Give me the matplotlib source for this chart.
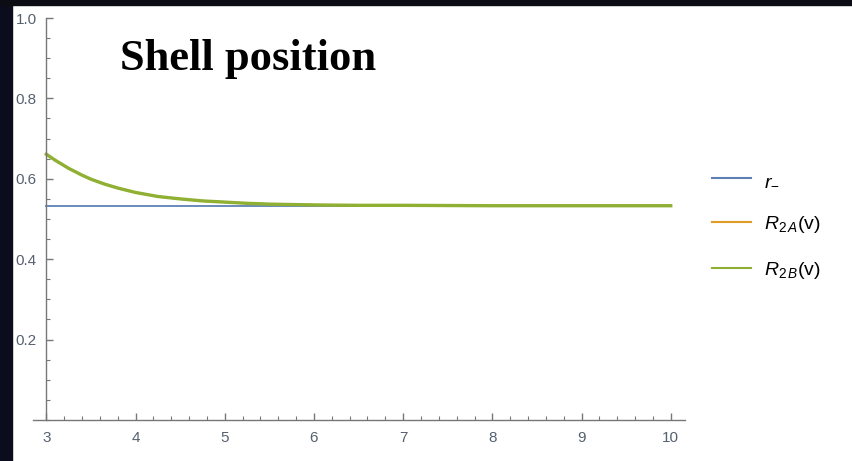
import matplotlib.pyplot as plt
from matplotlib.lines import Line2D
from matplotlib.patches import Rectangle
from matplotlib.ticker import MultipleLocator

plt.rcParams['mathtext.fontset'] = 'custom'
plt.rcParams['mathtext.rm'] = 'Liberation Sans'
plt.rcParams['mathtext.it'] = 'Liberation Sans:italic'

# values
v = [3.0, 3.1, 3.25, 3.4, 3.5, 3.65, 3.8, 4.0, 4.25, 4.5, 4.75, 5.0, 5.25, 5.5, 6.0, 6.5, 7.0, 8.0, 9.0, 10.0]
r_minus = [0.533] * len(v)
R2A = [0.661, 0.646, 0.626, 0.609, 0.599, 0.587, 0.577, 0.566, 0.556, 0.550, 0.545, 0.542, 0.539, 0.537, 0.535, 0.534, 0.534, 0.533, 0.533, 0.533]
R2B = [0.661, 0.646, 0.626, 0.609, 0.599, 0.587, 0.577, 0.566, 0.556, 0.550, 0.545, 0.542, 0.539, 0.537, 0.535, 0.534, 0.534, 0.533, 0.533, 0.533]

labels = [r'$r_{-}$', r'$R_{2\,A}$(v)', r'$R_{2\,B}$(v)']
colors = ['#5E81B5', '#E19C24', '#8FB032']

W, H = 853, 461
fig = plt.figure(figsize=(W / 100, H / 100), dpi=100)

# dark frame of the slide around the white panel
fig.patches.append(Rectangle((0, 0), 12 / W, 1, transform=fig.transFigure, color='#0b0c1c', zorder=-1))
fig.patches.append(Rectangle((0, 1 - 5 / H), 1, 5 / H, transform=fig.transFigure, color='#0b0c14', zorder=-1))

ax = fig.add_axes([33 / W, (H - 420) / H, 652 / W, 402 / H])
ax.patch.set_alpha(0)
ax.plot(v, r_minus, color=colors[0], lw=1.3)
ax.plot(v, R2A, color=colors[1], lw=1.5)
ax.plot(v, R2B, color=colors[2], lw=2.4)

ax.set_xlim(2.85, 10.16)
ax.set_ylim(0, 1.0)
ax.spines['left'].set_position(('data', 3))
ax.spines['top'].set_visible(False)
ax.spines['right'].set_visible(False)
for s in ['left', 'bottom']:
    ax.spines[s].set_color('#777777')
    ax.spines[s].set_linewidth(1.0)

ax.xaxis.set_minor_locator(MultipleLocator(0.2))
ax.yaxis.set_minor_locator(MultipleLocator(0.05))
ax.set_xticks(range(3, 11))
ax.set_yticks([0.2, 0.4, 0.6, 0.8, 1.0])
ax.set_xticklabels([str(i) for i in range(3, 11)])
ax.set_yticklabels(['0.2', '0.4', '0.6', '0.8', '1.0'])
ax.tick_params(which='both', direction='in', color='#777777', labelcolor='#556070',
               labelsize=11)
ax.tick_params(which='major', length=5, width=1.0)
ax.tick_params(which='minor', length=3, width=0.8)
ax.tick_params(axis='y', pad=7)
ax.tick_params(axis='x', pad=8)
for t in ax.get_xticklabels() + ax.get_yticklabels():
    t.set_fontfamily('Liberation Sans')

fig.text(120 / W, (H - 70) / H, 'Shell position', family='Liberation Serif',
         weight='bold', fontsize=32, va='baseline', ha='left')

handles = [Line2D([], [], color=c, lw=1.5) for c in colors]
fig.legend(handles, labels, loc='center left', bbox_to_anchor=(712 / W, (H - 226) / H),
           frameon=False, handlelength=2.0, handletextpad=0.7,
           labelspacing=1.3, borderpad=0, borderaxespad=0,
           prop={'family': 'Liberation Sans', 'size': 14})

fig.savefig('out.png', dpi=100)
